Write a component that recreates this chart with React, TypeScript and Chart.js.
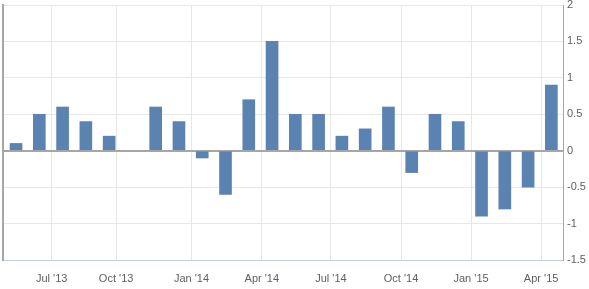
import React, { useEffect, useRef } from "react";
import { Chart, registerables } from "chart.js";

Chart.register(...registerables);

const months = [
  "May '13", "Jun '13", "Jul '13", "Aug '13", "Sep '13", "Oct '13", "Nov '13", "Dec '13",
  "Jan '14", "Feb '14", "Mar '14", "Apr '14", "May '14", "Jun '14", "Jul '14", "Aug '14",
  "Sep '14", "Oct '14", "Nov '14", "Dec '14", "Jan '15", "Feb '15", "Mar '15", "Apr '15",
];
const values: (number | null)[] = [
  0.1, 0.5, 0.6, 0.4, 0.2, null, 0.6, 0.4,
  -0.1, -0.6, 0.7, 1.5, 0.5, 0.5, 0.2, 0.3,
  0.6, -0.3, 0.5, 0.4, -0.9, -0.8, -0.5, 0.9,
];
const tickLabels = ["Jul '13", "Oct '13", "Jan '14", "Apr '14", "Jul '14", "Oct '14", "Jan '15", "Apr '15"];
const tickPositions = [1.53, 4.3, 7.54, 10.56, 13.53, 16.54, 19.55, 22.56];
const yTicks = [-1.5, -1, -0.5, 0, 0.5, 1, 1.5, 2];

export default function App() {
  const ref = useRef<HTMLCanvasElement>(null);
  useEffect(() => {
    if (!ref.current) return;
    const data = values.map((v, i) => ({ x: i, y: v }));
    const chart = new Chart(ref.current, {
      type: "bar",
      data: {
        datasets: [
          {
            label: months.join(","),
            data: data as any,
            backgroundColor: "#5b83b1",
            barThickness: 12,
            borderWidth: 0,
          },
        ],
      },
      options: {
        animation: false,
        responsive: false,
        maintainAspectRatio: false,
        layout: { padding: { top: 5, left: 0, right: 0, bottom: 0 } },
        plugins: { legend: { display: false }, tooltip: { enabled: false } },
        scales: {
          x: {
            type: "linear",
            offset: false,
            min: -0.56,
            max: 23.5,
            afterBuildTicks: (scale: any) => {
              scale.ticks = tickPositions.map((v) => ({ value: v }));
            },
            afterFit: (scale: any) => {
              scale.height = 29;
              scale.paddingLeft = 0;
              scale.paddingRight = 0;
            },
            ticks: {
              autoSkip: false,
              maxRotation: 0,
              padding: 12,
              color: "#606060",
              font: { family: "Liberation Sans, Arial, sans-serif", size: 11 },
              callback: (_v: any, i: number) => tickLabels[i],
            },
            grid: { color: "#e8e8e8", drawTicks: false, offset: false },
            border: { color: "#c0d0e0", width: 1 },
          },
          y: {
            position: "right",
            min: -1.5,
            max: 2,
            afterBuildTicks: (scale: any) => {
              scale.ticks = yTicks.map((v) => ({ value: v }));
            },
            afterFit: (scale: any) => {
              scale.width = 26;
              scale.paddingTop = 0;
              scale.paddingBottom = 0;
            },
            ticks: {
              padding: 4,
              color: "#606060",
              font: { family: "Liberation Sans, Arial, sans-serif", size: 11 },
              callback: (v: any) => String(v),
            },
            grid: {
              drawTicks: false,
              color: (ctx: any) => (ctx.tick && ctx.tick.value === 0 ? "#a6a6a6" : "#e8e8e8"),
              lineWidth: (ctx: any) => (ctx.tick && ctx.tick.value === 0 ? 2 : 1),
            },
            border: { color: "#a6a6a6", width: 1 },
          },
          yLeft: {
            position: "left",
            min: -1.5,
            max: 2,
            afterFit: (scale: any) => {
              scale.width = 3;
              scale.paddingTop = 0;
              scale.paddingBottom = 0;
            },
            ticks: { display: false },
            grid: { display: false, drawTicks: false },
            border: { color: "#a6a6a6", width: 2 },
          },
        },
      } as any,
    });
    return () => chart.destroy();
  }, []);
  return (
    <div style={{ position: "absolute", left: 0, top: 0, width: 589, height: 289, background: "#fff" }}>
      <canvas ref={ref} width={589} height={289} style={{ width: 589, height: 289 }} />
    </div>
  );
}
